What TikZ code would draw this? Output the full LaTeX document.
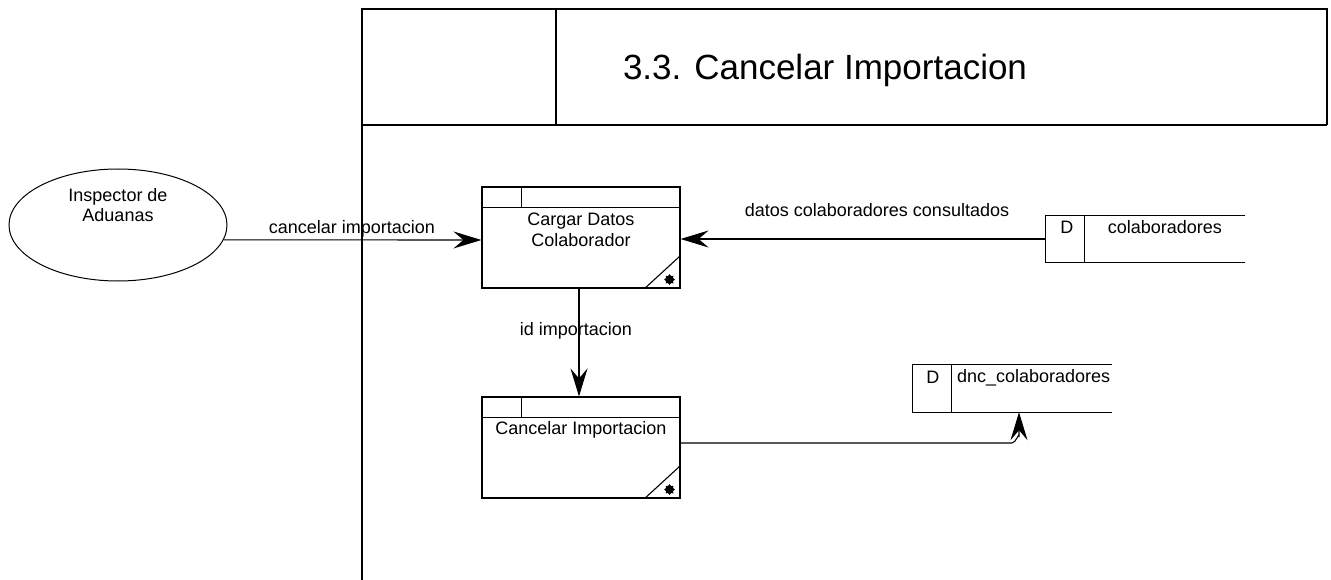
\documentclass[tikz,border=0pt]{standalone}
\usepackage{fontspec}
\setmainfont{Liberation Sans}
\usetikzlibrary{arrows.meta,shapes.geometric,calc}
\begin{document}
\begin{tikzpicture}[x=1pt,y=-1pt,
  frameline/.style={line width=1.4pt},
  boxline/.style={line width=1.1pt},
  proc/.style={draw, line width=1.1pt, minimum width=198pt, minimum height=101pt, inner sep=0pt},
  store/.style={minimum width=199pt, minimum height=47pt, inner sep=0pt},
  flow/.style={line width=1.1pt, -{Stealth[length=28pt,width=17pt,inset=10pt]}},
  txt/.style={font=\fontsize{18}{20.5}\selectfont, align=center, inner sep=0pt},
  titletxt/.style={font=\fontsize{35}{40}\selectfont, inner sep=0pt},
  marker/.style={star, star points=8, star point ratio=1.4, fill, draw, minimum size=10pt, inner sep=0pt}
]
\useasboundingbox (0,0) rectangle (1331,580);

% diagram frame with title block
\draw[frameline] (362,580) -- (362,9) -- (1327,9) -- (1327,125);
\draw[frameline] (362,125) -- (1327,125);
\draw[frameline] (556,9) -- (556,125);
\node[titletxt] (title) at (825,70) {3.3. Cancelar Importacion};

% external entity
\node[ellipse, draw, line width=1pt, minimum width=218pt, minimum height=112pt, inner sep=0pt] (insp) at (118,225) {};
\node[txt] (insptxt) at (118,205) {Inspector de\\Aduanas};

% processes
\node[proc] (p1) at (581,237.5) {};
\node[proc] (p2) at (581,447.5) {};
\foreach \p in {p1,p2} {
  \draw[boxline] ($(\p.north west)+(0,21)$) -- ($(\p.north east)+(0,21)$);
  \draw[boxline] ($(\p.north west)+(40,0)$) -- ($(\p.north west)+(40,21)$);
  \draw[boxline] ($(\p.south east)+(-36,0)$) -- ($(\p.south east)+(0,-33)$);
  \node[marker] (\p star) at ($(\p.south east)+(-11,-9)$) {};
}
\node[txt] (p1txt) at (581,230) {Cargar Datos\\Colaborador};
\node[txt] (p2txt) at (581,430) {Cancelar Importacion};

% data stores
\node[store] (cola) at (1145.5,239) {};
\node[store] (dnc) at (1012.5,388.5) {};
\foreach \s in {cola,dnc} {
  \draw[boxline] (\s.north east) -- (\s.north west) -- (\s.south west) -- (\s.south east);
  \draw[boxline] ($(\s.north west)+(39,0)$) -- ($(\s.south west)+(39,0)$);
}
\node[txt] (colaD) at ($(cola.north west)+(21,12)$) {D};
\node[txt] (colatxt) at ($(cola.north west)+(119,12)$) {colaboradores};
\node[txt] (dncD) at ($(dnc.north west)+(20,13)$) {D};
\node[txt, anchor=west] (dnctxt) at ($(dnc.north west)+(44,13)$) {dnc\_colaboradores};

% data flows
\draw[flow] (insp.-8) -- (p1.west |- 0,240);
\node[txt] (f1) at (352,229) {cancelar importacion};

\draw[flow] (cola.west) -- (cola.west -| p1.east);
\node[txt] (f2) at (877,210) {datos colaboradores consultados};

\draw[flow] (p1.south -| 579,0) -- (p2.north -| 579,0);
\node[txt] (f3) at (576,331) {id importacion};

\draw[flow] (p2.east |- 0,443) -- (1012,443) to[out=0,in=90] (1019,436) -- ($(dnc.south)+(6.5,0)$);
\end{tikzpicture}
\end{document}
